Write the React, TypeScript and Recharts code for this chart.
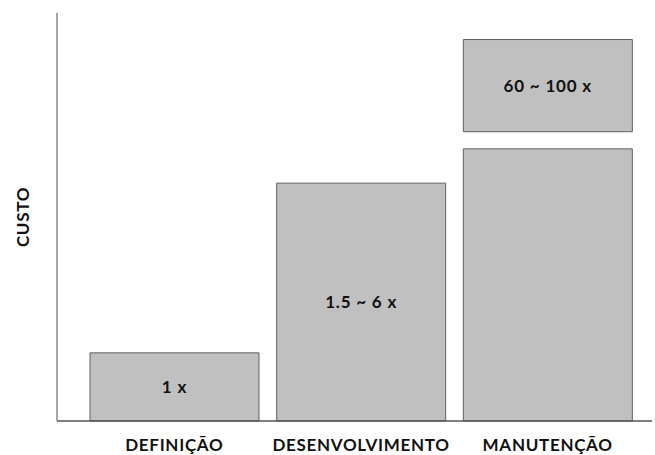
import { BarChart, Bar, XAxis, YAxis, LabelList } from 'recharts';

const categories = ['DEFINIÇÃO', 'DESENVOLVIMENTO', 'MANUTENÇÃO'];
const baseCost = [16.7, 58.3, 66.7];
const gapCost = [0, 0, 4.2];
const topCost = [0, 0, 22.6];
const baseLabels = ['1 x', '1.5 ~ 6 x', ''];
const topLabels = ['', '', '60 ~ 100 x'];

const data = categories.map((name, i) => ({
  name,
  base: baseCost[i],
  gap: gapCost[i],
  top: topCost[i],
  baseLabel: baseLabels[i],
  topLabel: topLabels[i],
}));

const font = 'Lato, "Open Sans", sans-serif';
const labelStyle = { fontFamily: font, fontWeight: 700, fontSize: 17, fill: '#111', letterSpacing: 0.8 };

export default function App() {
  return (
    <div style={{ position: 'absolute', left: 0, top: 0, background: '#fff' }}>
      <BarChart
        width={655}
        height={455}
        data={data}
        margin={{ top: 13, right: 3, left: 0, bottom: 0 }}
        barSize={169}
      >
        <XAxis
          dataKey="name"
          height={34}
          padding={{ left: 24, right: 11 }}
          tickLine={false}
          tickSize={0}
          tickMargin={18}
          axisLine={{ stroke: '#555', strokeWidth: 1.5 }}
          tick={{ fontFamily: font, fontWeight: 700, fontSize: 17, fill: '#111', letterSpacing: 0.7 }}
        />
        <YAxis
          width={57}
          domain={[0, 100]}
          tick={false}
          tickLine={false}
          axisLine={{ stroke: '#888', strokeWidth: 1.5 }}
          label={{
            value: 'CUSTO',
            angle: -90,
            position: 'center',
            dx: -6,
            style: { fontFamily: font, fontWeight: 700, fontSize: 17, fill: '#111', letterSpacing: 0.7 },
          }}
        />
        <Bar dataKey="base" stackId="c" fill="#c0c0c0" stroke="#606060" strokeWidth={1} isAnimationActive={false}>
          <LabelList dataKey="baseLabel" position="center" style={labelStyle} />
        </Bar>
        <Bar dataKey="gap" stackId="c" fill="transparent" stroke="none" isAnimationActive={false} />
        <Bar dataKey="top" stackId="c" fill="#c0c0c0" stroke="#606060" strokeWidth={1} isAnimationActive={false}>
          <LabelList dataKey="topLabel" position="center" style={labelStyle} />
        </Bar>
      </BarChart>
    </div>
  );
}
